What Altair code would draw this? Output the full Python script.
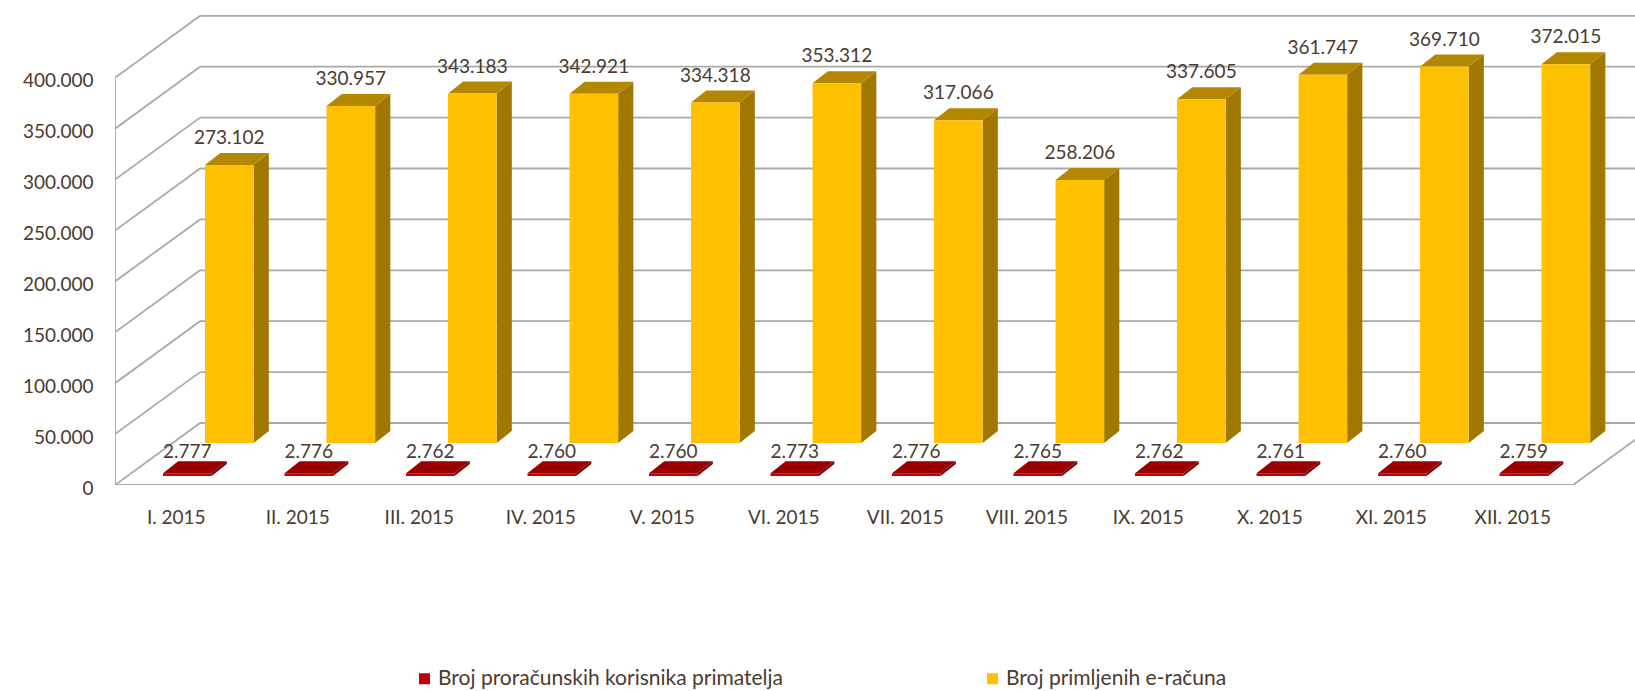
import altair as alt
import pandas as pd

# ---------------- data ----------------
months = ["I. 2015", "II. 2015", "III. 2015", "IV. 2015", "V. 2015", "VI. 2015",
          "VII. 2015", "VIII. 2015", "IX. 2015", "X. 2015", "XI. 2015", "XII. 2015"]
korisnici = [2777, 2776, 2762, 2760, 2760, 2773, 2776, 2765, 2762, 2761, 2760, 2759]
racuni = [273102, 330957, 343183, 342921, 334318, 353312, 317066, 258206,
          337605, 361747, 369710, 372015]
series_names = ["Broj proračunskih korisnika primatelja", "Broj primljenih e-računa"]
y_ticks = [0, 50000, 100000, 150000, 200000, 250000, 300000, 350000, 400000]

# ---------------- styling / pseudo-3D geometry (in scale units) ----------------
TEXT = "#4b3a2f"
GRID = "#a9a9a9"
FONT = "Lato"
X_MAX = 12.51
Y_MAX = 466600
WALL_DX, WALL_DY = 0.70, 60900
BAR_W, BAR_DX, BAR_DY = 0.40, 0.125, 11800
style = {
    series_names[0]: dict(start=0.395, base=8800, front="#C00000", top="#990000",
                          side="#7a0000", label_dy=-9),
    series_names[1]: dict(start=0.741, base=41300, front="#FFC000", top="#B38800",
                          side="#A07800", label_dy=-15),
}


def fmt(v):
    return f"{v:,}".replace(",", ".")


front_rows, side_rows, top_rows = [], [], []
for name, vals in zip(series_names, [korisnici, racuni]):
    st = style[name]
    for i, v in enumerate(vals):
        x0 = i + st["start"]
        x1 = x0 + BAR_W
        yb = st["base"]
        yt = yb + v
        key = f"{name}-{i}"
        front_rows.append(dict(series=name, x0=x0, x1=x1, yb=yb, yt=yt,
                               xm=(x0 + x1) / 2, ylab=yt + BAR_DY, label=fmt(v)))
        side_rows.append(dict(series=name, key=key, x=x1, lo=yb, hi=yt))
        side_rows.append(dict(series=name, key=key, x=x1 + BAR_DX, lo=yb + BAR_DY, hi=yt + BAR_DY))
        top_rows.append(dict(series=name, key=key, y=yt, xa=x0, xb=x1))
        top_rows.append(dict(series=name, key=key, y=yt + BAR_DY, xa=x0 + BAR_DX, xb=x1 + BAR_DX))

front = pd.DataFrame(front_rows)
side = pd.DataFrame(side_rows)
top = pd.DataFrame(top_rows)

n = len(months)
walls = pd.DataFrame(
    [dict(x=WALL_DX, x2=X_MAX + WALL_DX, y=t + WALL_DY, y2=t + WALL_DY) for t in y_ticks]
    + [dict(x=0, x2=WALL_DX, y=t, y2=t + WALL_DY) for t in y_ticks]
    + [dict(x=0, x2=0, y=0, y2=y_ticks[-1]),
       dict(x=0, x2=n, y=0, y2=0),
       dict(x=n, x2=n + WALL_DX, y=0, y2=WALL_DY)]
)

xscale = alt.Scale(domain=[0, X_MAX], nice=False, zero=False)
yscale = alt.Scale(domain=[0, Y_MAX], nice=False, zero=False)

month_expr = "[" + ",".join(f"'{m}'" for m in months) + "][round(datum.value - 0.5)]"

wall_layer = alt.Chart(walls).mark_rule(color=GRID, strokeWidth=1.8, clip=True).encode(
    x=alt.X("x:Q", scale=xscale,
            axis=alt.Axis(values=[i + 0.5 for i in range(n)], labelExpr=month_expr,
                          title=None, domain=False, ticks=False, tickSize=0, grid=False,
                          labelFontSize=19, labelColor=TEXT, labelFont=FONT,
                          labelPadding=32, labelBaseline="middle", labelFlush=False,
                          labelOverlap=False)),
    x2="x2:Q",
    y=alt.Y("y:Q", scale=yscale,
            axis=alt.Axis(values=y_ticks, labelExpr="replace(format(datum.value, ','), ',', '.')",
                          title=None, domain=False, ticks=False, tickSize=0, grid=False,
                          labelFontSize=19, labelColor=TEXT, labelFont=FONT,
                          labelPadding=22, labelOffset=3)),
    y2="y2:Q",
)

layers = [wall_layer]
for name in [series_names[1], series_names[0]]:
    st = style[name]
    sd = side[side.series == name]
    tp = top[top.series == name]
    layers.append(
        alt.Chart(sd).mark_area(orient="vertical", color=st["side"]).encode(
            x=alt.X("x:Q", scale=xscale),
            y=alt.Y("lo:Q", scale=yscale, stack=None),
            y2="hi:Q",
            detail="key:N",
        )
    )
    layers.append(
        alt.Chart(tp).mark_area(orient="horizontal", color=st["top"]).encode(
            y=alt.Y("y:Q", scale=yscale),
            x=alt.X("xa:Q", scale=xscale, stack=None),
            x2="xb:Q",
            detail="key:N",
        )
    )

front_layer = alt.Chart(front).mark_rect().encode(
    x=alt.X("x0:Q", scale=xscale),
    x2="x1:Q",
    y=alt.Y("yb:Q", scale=yscale),
    y2="yt:Q",
    color=alt.Color(
        "series:N",
        scale=alt.Scale(domain=series_names,
                        range=[style[s]["front"] for s in series_names]),
        legend=alt.Legend(orient="none", legendX=299, legendY=658, direction="horizontal",
                          title=None, symbolType="square", symbolSize=121,
                          symbolStrokeWidth=0, labelFontSize=21, labelColor=TEXT,
                          labelFont=FONT, labelOffset=3, labelLimit=0, columns=2,
                          columnPadding=198, padding=0),
    ),
)
layers.append(front_layer)

for name in series_names:
    st = style[name]
    layers.append(
        alt.Chart(front[front.series == name]).mark_text(
            fontSize=19, color=TEXT, font=FONT, baseline="middle", align="center",
            dy=st["label_dy"]
        ).encode(
            x=alt.X("xm:Q", scale=xscale),
            y=alt.Y("ylab:Q", scale=yscale),
            text="label:N",
        )
    )

chart = alt.layer(*layers).properties(
    width=1520,
    height=475,
    autosize=alt.AutoSizeParams(type="none"),
    padding={"left": 115, "top": 10, "right": 0, "bottom": 206},
    background="white",
).configure_view(stroke=None)

chart.save("out.html", embed_options={"renderer": "svg", "actions": False})
